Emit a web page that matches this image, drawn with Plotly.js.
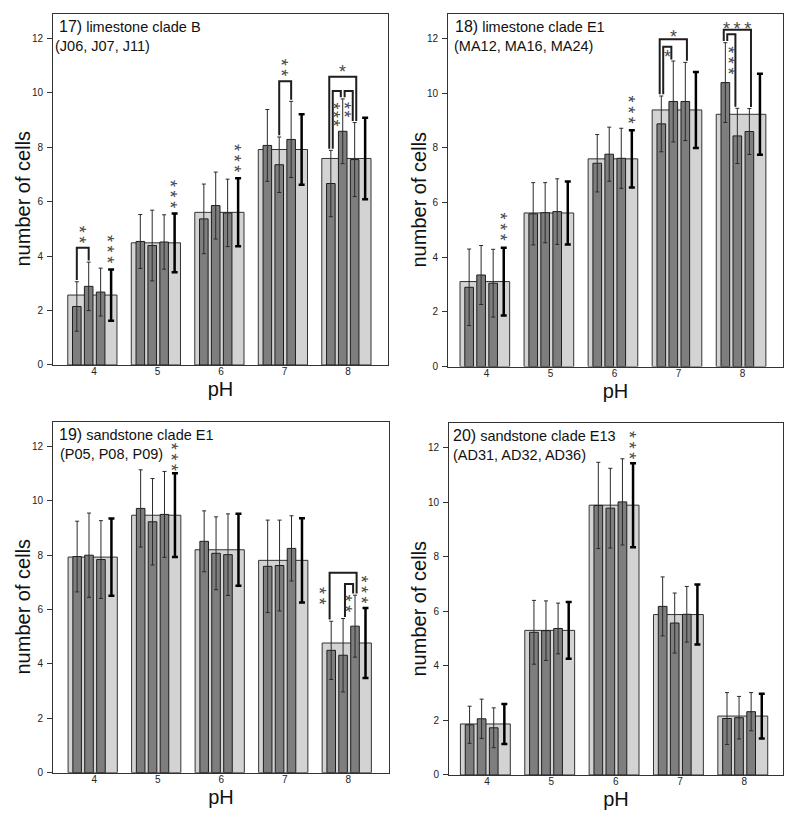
<!DOCTYPE html>
<html><head><meta charset="utf-8">
<script src="https://cdn.plot.ly/plotly-3.0.1.min.js"></script>
<style>html,body{margin:0;padding:0;background:#fff}#chart{width:800px;height:820px}</style>
</head><body><div id="chart"></div>
<script>
// ---------- data ----------
const pHLabels = ['4', '5', '6', '7', '8'];

// 17) limestone clade B
const p17Mean   = [2.57, 4.49, 5.61, 7.92, 7.59];
const p17MeanSD = [0.94, 1.08, 1.25, 1.30, 1.50];
const p17A      = [2.15, 4.54, 5.37, 8.07, 6.67];
const p17ASD    = [0.91, 0.99, 1.28, 1.32, 1.22];
const p17B      = [2.89, 4.39, 5.86, 7.36, 8.59];
const p17BSD    = [0.89, 1.30, 1.23, 1.02, 1.19];
const p17C      = [2.68, 4.52, 5.59, 8.29, 7.55];
const p17CSD    = [0.88, 1.00, 1.24, 1.40, 1.36];

// 18) limestone clade E1
const p18Mean   = [3.11, 5.62, 7.60, 9.39, 9.23];
const p18MeanSD = [1.24, 1.15, 1.05, 1.39, 1.48];
const p18A      = [2.90, 5.59, 7.44, 8.88, 10.39];
const p18ASD    = [1.40, 1.14, 1.05, 1.02, 1.46];
const p18B      = [3.35, 5.63, 7.77, 9.70, 8.44];
const p18BSD    = [1.08, 1.10, 0.99, 1.48, 1.01];
const p18C      = [3.05, 5.67, 7.62, 9.70, 8.60];
const p18CSD    = [1.24, 1.20, 1.10, 1.43, 0.84];

// 19) sandstone clade E1
const p19Mean   = [7.93, 9.47, 8.20, 7.81, 4.77];
const p19MeanSD = [1.42, 1.54, 1.32, 1.55, 1.29];
const p19A      = [7.95, 9.72, 8.51, 7.59, 4.50];
const p19ASD    = [1.30, 1.42, 1.12, 1.70, 1.07];
const p19B      = [8.00, 9.23, 8.07, 7.62, 4.32];
const p19BSD    = [1.55, 1.59, 1.34, 1.67, 1.35];
const p19C      = [7.84, 9.50, 8.02, 8.25, 5.39];
const p19CSD    = [1.43, 1.58, 1.50, 1.20, 1.14];

// 20) sandstone clade E13
const p20Mean   = [1.87, 5.30, 9.89, 5.88, 2.16];
const p20MeanSD = [0.73, 1.04, 1.54, 1.10, 0.82];
const p20A      = [1.84, 5.23, 9.88, 6.18, 2.07];
const p20ASD    = [0.68, 1.17, 1.58, 1.08, 0.95];
const p20B      = [2.06, 5.29, 9.78, 5.57, 2.10];
const p20BSD    = [0.72, 1.09, 1.46, 1.10, 0.78];
const p20C      = [1.73, 5.37, 10.01, 5.89, 2.32];
const p20CSD    = [0.73, 0.93, 1.58, 1.02, 0.70];

// significance brackets: [pH index, first strain, second strain, bracket height]
const p17Brackets = [[0, 0, 1, 4.31], [3, 1, 2, 10.43], [4, 0, 2, 10.59], [4, 0, 1, 10.07], [4, 1, 2, 10.07]];
const p18Brackets = [[3, 0, 2, 11.98], [3, 0, 1, 11.70], [4, 0, 2, 12.32], [4, 0, 1, 12.16]];
const p19Brackets = [[4, 0, 2, 7.35], [4, 1, 2, 6.94]];
const p20Brackets = [];

// significance marks: [pH index, slot, label, centre height, direction]  (v = stacked, h = in a row, t = stacked tight)
const p17Stars = [[0, 'ab', '**', 4.80, 'v'], [0, 'm', '***', 4.26, 'v'], [1, 'm', '***', 6.30, 'v'],
                  [2, 'm', '***', 7.60, 'v'], [3, 'bc', '**', 10.92, 'v'], [4, 'b', '*', 10.90, 'h'],
                  [4, 'ab', '***', 9.22, 't'], [4, 'bc', '**', 9.38, 't']];
const p18Stars = [[0, 'm', '***', 5.13, 'v'], [2, 'm', '***', 9.41, 'v'], [3, 'b', '*', 12.20, 'h'],
                  [3, 'ab', '*', 11.46, 'h'], [4, 'b', '***', 12.50, 'h'], [4, 'ab', '***', 11.20, 'v']];
const p19Stars = [[1, 'm', '***', 11.62, 'v'], [4, 'L', '**', 6.50, 'v'], [4, 'bc', '**', 6.22, 'v'],
                  [4, 'm', '***', 6.76, 'v']];
const p20Stars = [[2, 'm', '***', 12.09, 'v']];

const panelTitles = [['17)', 'limestone clade B', '(J06, J07, J11)'],
                     ['18)', 'limestone clade E1', '(MA12, MA16, MA24)'],
                     ['19)', 'sandstone clade E1', '(P05, P08, P09)'],
                     ['20)', 'sandstone clade E13', '(AD31, AD32, AD36)']];
const yTitle = 'number of cells';
const xTitle = 'pH';

// ---------- layout geometry ----------
const geom = [
  {xd: [0.06625, 0.4850], yd: [0.5549, 0.9829], xr: [-0.645, 4.63], yt: [22.5, 199], tx: [0.0128, 0.0007]},
  {xd: [0.5600, 0.97875], yd: [0.5530, 0.9829], xr: [-0.600, 4.63], yt: [418, 199.5], tx: [0.0150, 0.0130]},
  {xd: [0.06625, 0.48625], yd: [0.0577, 0.4854], xr: [-0.650, 4.64], yt: [22.5, 607], tx: [0.0128, 0.0150]},
  {xd: [0.56125, 0.97875], yd: [0.0549, 0.4841], xr: [-0.590, 4.60], yt: [418, 608.5], tx: [0.0070, 0.0070]}
];
const OFF = {a: -0.27, b: -0.083, c: 0.105, m: 0.27, ab: -0.177, bc: 0.011, L: -0.40};
const WIDE_OFF = -0.025;
const STAR_SIZE = 18;

const panels = [
  {mean: p17Mean, meanSD: p17MeanSD, s: [p17A, p17B, p17C], sd: [p17ASD, p17BSD, p17CSD], br: p17Brackets, st: p17Stars},
  {mean: p18Mean, meanSD: p18MeanSD, s: [p18A, p18B, p18C], sd: [p18ASD, p18BSD, p18CSD], br: p18Brackets, st: p18Stars},
  {mean: p19Mean, meanSD: p19MeanSD, s: [p19A, p19B, p19C], sd: [p19ASD, p19BSD, p19CSD], br: p19Brackets, st: p19Stars},
  {mean: p20Mean, meanSD: p20MeanSD, s: [p20A, p20B, p20C], sd: [p20ASD, p20BSD, p20CSD], br: p20Brackets, st: p20Stars}
];

const traces = [], shapes = [], annotations = [];
const layout = {
  width: 800, height: 820, margin: {l: 0, r: 0, t: 0, b: 0},
  paper_bgcolor: '#fff', plot_bgcolor: '#fff', showlegend: false, barmode: 'overlay',
  font: {family: 'Liberation Sans, Arial, sans-serif', color: '#222'}
};
const slotKeys = ['a', 'b', 'c'];
const idx = pHLabels.map((_, i) => i);

panels.forEach((p, k) => {
  const n = k + 1;
  const xa = n === 1 ? 'x' : 'x' + n, ya = n === 1 ? 'y' : 'y' + n;
  const g = geom[k];
  traces.push({type: 'bar', x: idx.map(i => i + WIDE_OFF), y: p.mean, width: 0.775, xaxis: xa, yaxis: ya,
    marker: {color: '#d3d3d3', line: {color: '#333', width: 1}}, hoverinfo: 'skip'});
  p.s.forEach((vals, j) => {
    traces.push({type: 'bar', x: idx.map(i => i + OFF[slotKeys[j]]), y: vals, width: 0.135, xaxis: xa, yaxis: ya,
      marker: {color: '#7e7e7e', line: {color: '#1e1e1e', width: 1}},
      error_y: {type: 'data', array: p.sd[j], visible: true, color: '#2a2a2a', thickness: 1, width: 2}});
  });
  traces.push({type: 'scatter', mode: 'markers', x: idx.map(i => i + OFF.m), y: p.mean, xaxis: xa, yaxis: ya,
    marker: {color: 'rgba(0,0,0,0)', size: 2},
    error_y: {type: 'data', array: p.meanSD, visible: true, color: '#000', thickness: 2.5, width: 3}});

  // brackets
  p.br.forEach(b => {
    const [cat, i, j, top] = b;
    const hasInner = p.br.some(o => o !== b && o[0] === cat && (o[2] - o[1]) < (j - i));
    const isInner = p.br.some(o => o !== b && o[0] === cat && (o[2] - o[1]) > (j - i));
    let xi = cat + OFF[slotKeys[i]], xj = cat + OFF[slotKeys[j]];
    if (hasInner) { xi -= 0.025; xj += 0.025; }
    if (isInner) { xi += 0.03; xj -= 0.03; }
    const bi = p.s[i][cat] + p.sd[i][cat] + 0.06, bj = p.s[j][cat] + p.sd[j][cat] + 0.06;
    shapes.push({type: 'path', xref: xa, yref: ya, layer: 'above',
      path: `M ${xi},${bi} L ${xi},${top} L ${xj},${top} L ${xj},${bj}`,
      line: {color: '#1e1e1e', width: 2}});
  });
  // asterisks
  p.st.forEach(([cat, slot, label, yv, dir]) => {
    const sep = dir === 't' ? '\u200A' : '\u2009';
    const txt = label.split('').join(sep);
    const rot = dir !== 'h';
    annotations.push({xref: xa, yref: ya, x: cat + OFF[slot], y: yv, text: txt,
      showarrow: false, xanchor: 'center', yanchor: 'middle', textangle: rot ? 90 : 0,
      xshift: rot ? -4 : 0, yshift: rot ? 0 : -4,
      font: {size: STAR_SIZE, color: '#4a4a4a'}});
  });
  // panel titles
  const t = panelTitles[k];
  annotations.push({xref: xa + ' domain', yref: ya + ' domain', x: g.tx[0], y: 0.964, xanchor: 'left', yanchor: 'middle',
    showarrow: false, text: `<span style="font-size:16px">${t[0]}</span> ${t[1]}`, font: {size: 14.5, color: '#111'}});
  annotations.push({xref: xa + ' domain', yref: ya + ' domain', x: g.tx[1], y: 0.908, xanchor: 'left', yanchor: 'middle',
    showarrow: false, text: t[2], font: {size: 14.5, color: '#111'}});
  // y-axis title
  annotations.push({xref: 'paper', yref: 'paper', x: g.yt[0] / 800, y: 1 - g.yt[1] / 820, xanchor: 'center', yanchor: 'middle',
    textangle: -90, showarrow: false, text: yTitle, font: {size: 20, color: '#111'}});

  layout['xaxis' + (n === 1 ? '' : n)] = {
    domain: g.xd, range: g.xr, anchor: ya, tickvals: idx, ticktext: pHLabels, ticks: '',
    showline: true, mirror: true, linecolor: '#333', linewidth: 1, showgrid: false, zeroline: false,
    tickfont: {size: 10, color: '#222'}, ticklabelstandoff: -3,
    title: {text: xTitle, font: {size: 20, color: '#111'}, standoff: 6}, fixedrange: true
  };
  layout['yaxis' + (n === 1 ? '' : n)] = {
    domain: g.yd, range: [0, 12.9], anchor: xa, tickvals: [0, 2, 4, 6, 8, 10, 12], ticks: 'outside', ticklen: 5,
    tickcolor: '#333', showline: true, mirror: true, linecolor: '#333', linewidth: 1, showgrid: false, zeroline: false,
    tickfont: {size: 10, color: '#222'}, ticklabelstandoff: 2, fixedrange: true
  };
});
layout.shapes = shapes;
layout.annotations = annotations;

Plotly.newPlot('chart', traces, layout, {displayModeBar: false, staticPlot: true});
</script></body></html>
